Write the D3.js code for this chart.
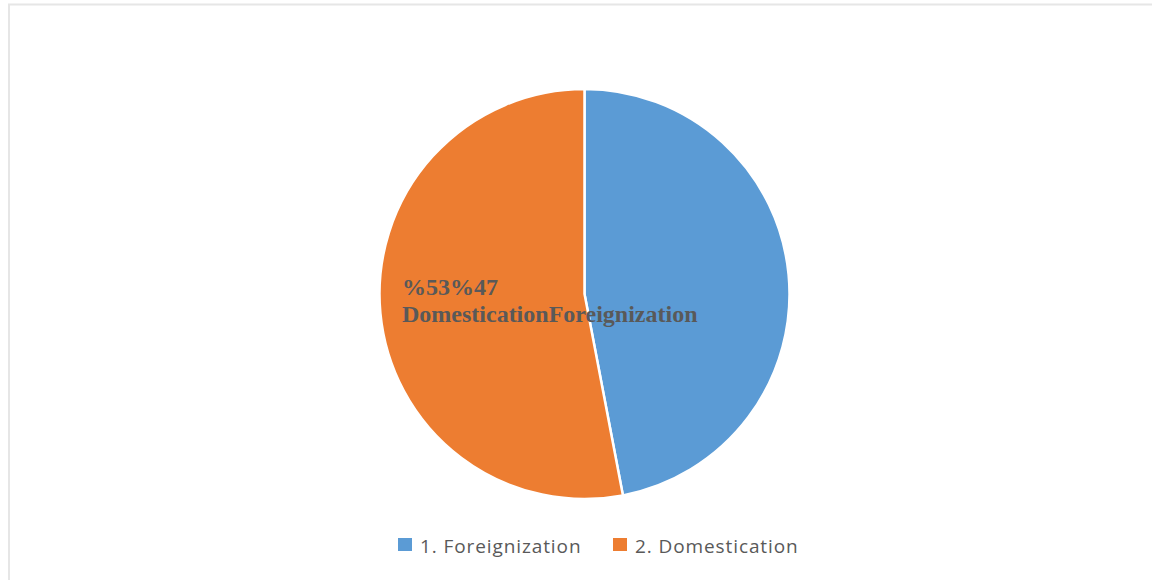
<!DOCTYPE html>
<html>
<head>
<meta charset="utf-8">
<script src="https://cdn.jsdelivr.net/npm/d3@7"></script>
<style>
  html, body { margin: 0; padding: 0; background: #fff; }
  svg { display: block; }
</style>
</head>
<body>
<div id="chart"></div>
<script>
// data
const categories = ["1. Foreignization", "2. Domestication"]
const values = [47, 53]
const colors = ["#5b9bd5", "#ed7d31"]
const labelLines = ["%53%47", "DomesticationForeignization"]

const width = 1153, height = 580
const cx = 584.5, cy = 294, radius = 205

const svg = d3.select("#chart")
    .append("svg")
    .attr("width", width)
    .attr("height", height)

// frame (top and left edges only visible)
svg.append("line")
    .attr("x1", 8).attr("x2", 1152).attr("y1", 4.5).attr("y2", 4.5)
    .attr("stroke", "#e6e6e6").attr("stroke-width", 2)
svg.append("line")
    .attr("x1", 9).attr("x2", 9).attr("y1", 4).attr("y2", height)
    .attr("stroke", "#e6e6e6").attr("stroke-width", 2)

// pie
const pie = d3.pie().sort(null).value(d => d)
const arc = d3.arc().innerRadius(0).outerRadius(radius)

svg.append("g")
    .attr("transform", `translate(${cx},${cy})`)
    .selectAll("path")
    .data(pie(values))
    .join("path")
    .attr("d", arc)
    .attr("fill", (d, i) => colors[i])
    .attr("stroke", "#fff")
    .attr("stroke-width", 2.5)

// data label (garbled in the original, kept as is)
const label = svg.append("text")
    .attr("font-family", "'Liberation Serif', 'Times New Roman', serif")
    .attr("font-weight", "bold")
    .attr("font-size", 24)
    .attr("fill", "#595959")
labelLines.forEach((t, i) => {
    label.append("tspan")
        .attr("x", 402)
        .attr("y", 295 + i * 27)
        .text(t)
})

// legend
const legend = svg.append("g")
    .selectAll("g")
    .data(categories)
    .join("g")
    .attr("transform", (d, i) => `translate(${i === 0 ? 398 : 613},538)`)

legend.append("rect")
    .attr("width", 14)
    .attr("height", 13)
    .attr("fill", (d, i) => colors[i])

legend.append("text")
    .attr("x", 22)
    .attr("y", 15)
    .attr("font-family", "'Open Sans', sans-serif")
    .attr("font-size", 19)
    .attr("letter-spacing", 0.9)
    .attr("fill", "#595959")
    .text(d => d)
</script>
</body>
</html>
